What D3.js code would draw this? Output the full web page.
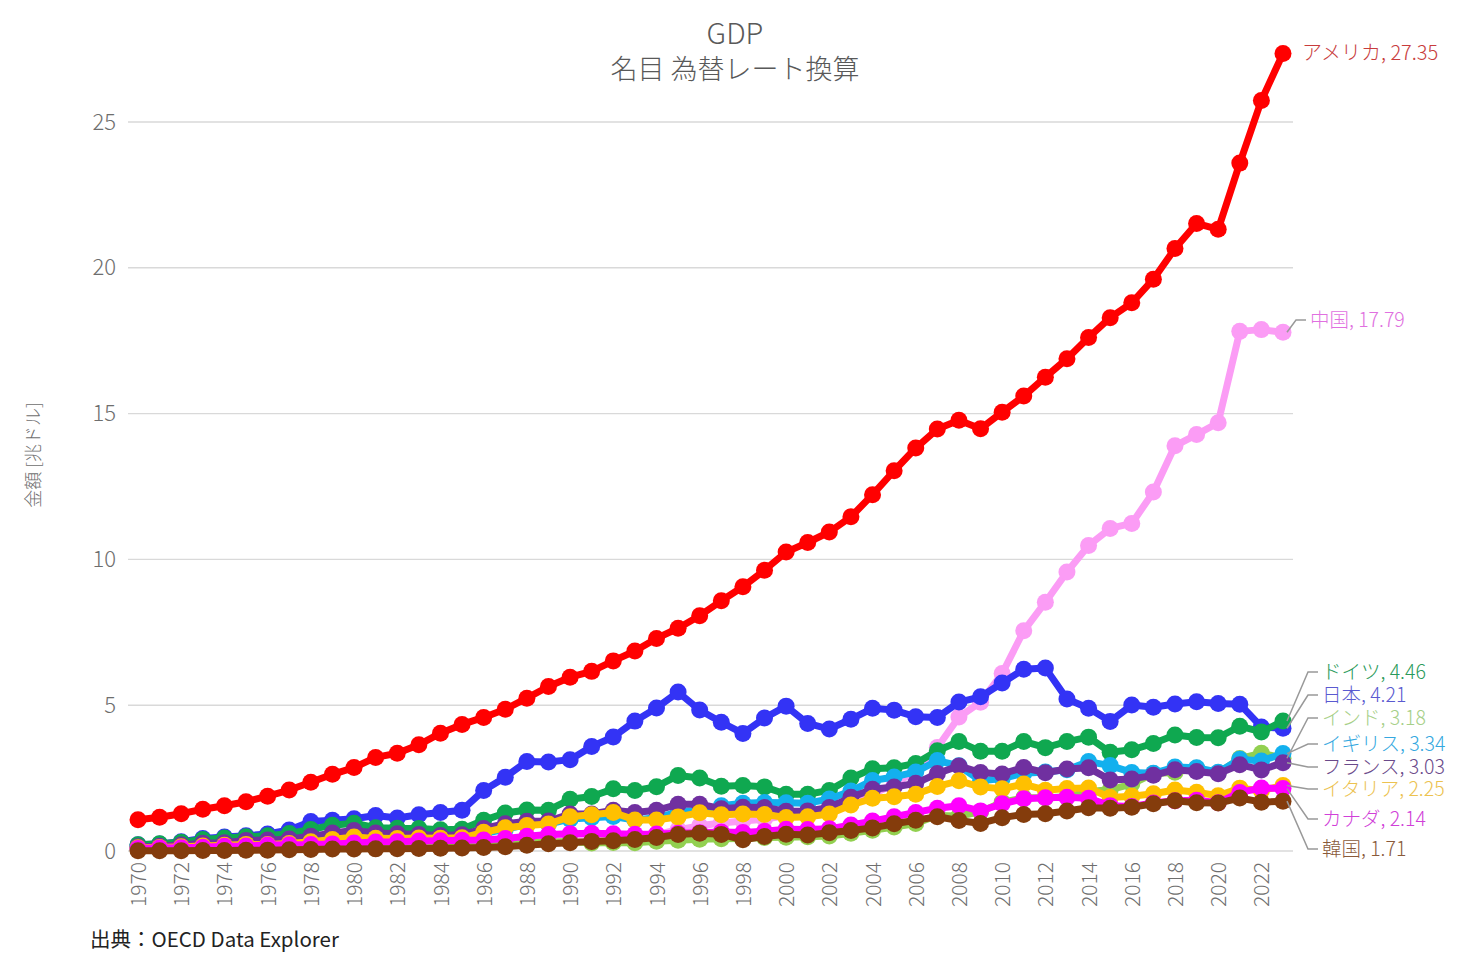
<!DOCTYPE html>
<html><head><meta charset="utf-8">
<script src="https://cdn.jsdelivr.net/npm/d3@7"></script>
<style>
body{margin:0;background:#fff;}
text{font-family:"Noto Sans CJK JP","Noto Sans",sans-serif;}
</style></head>
<body><svg id="c" width="1471" height="961"></svg>
<script>
const years = d3.range(1970, 2024);
const seriesNames = ["アメリカ","中国","日本","ドイツ","インド","イギリス","フランス","イタリア","カナダ","韓国"];
const seriesColors = ["#ff0000","#fb9cf5","#3333f5","#0fa850","#92d050","#13b0ee","#7030a0","#ffc000","#ff00ff","#843c0c"];
const labelColors = ["#c83c3c","#e070e0","#5a5ad0","#2a9a5a","#a6cf88","#35a8e0","#6a4a8a","#ecc250","#d040d8","#8a5a3a"];
const usa = [1.07,1.16,1.28,1.43,1.55,1.69,1.88,2.09,2.36,2.63,2.86,3.21,3.35,3.64,4.04,4.34,4.58,4.86,5.24,5.64,5.96,6.16,6.52,6.86,7.29,7.64,8.07,8.58,9.06,9.63,10.25,10.58,10.94,11.46,12.22,13.04,13.82,14.47,14.77,14.48,15.05,15.6,16.25,16.88,17.61,18.29,18.8,19.61,20.66,21.52,21.32,23.59,25.74,27.35];
const china = [0.093,0.099,0.113,0.138,0.144,0.163,0.154,0.175,0.149,0.178,0.191,0.196,0.205,0.23,0.26,0.309,0.301,0.273,0.313,0.348,0.361,0.383,0.427,0.445,0.564,0.734,0.863,0.962,1.029,1.094,1.211,1.339,1.471,1.66,1.955,2.286,2.752,3.55,4.594,5.102,6.087,7.552,8.532,9.57,10.475,11.062,11.233,12.31,13.895,14.28,14.688,17.82,17.88,17.79];
const japan = [0.212,0.24,0.318,0.432,0.479,0.521,0.586,0.721,1.014,1.055,1.105,1.218,1.134,1.244,1.318,1.399,2.078,2.532,3.072,3.054,3.133,3.584,3.909,4.454,4.907,5.449,4.833,4.415,4.032,4.562,4.968,4.374,4.183,4.52,4.893,4.831,4.601,4.579,5.106,5.289,5.759,6.233,6.272,5.212,4.897,4.445,5.004,4.931,5.041,5.118,5.055,5.034,4.256,4.21];
const germany = [0.216,0.249,0.3,0.398,0.446,0.489,0.52,0.601,0.74,0.882,0.95,0.8,0.777,0.771,0.725,0.745,1.052,1.303,1.405,1.398,1.772,1.868,2.131,2.071,2.206,2.592,2.504,2.219,2.243,2.199,1.948,1.945,2.078,2.505,2.82,2.858,3.002,3.44,3.752,3.418,3.418,3.758,3.545,3.753,3.905,3.384,3.469,3.69,3.977,3.889,3.887,4.279,4.082,4.46];
const india = [0.063,0.067,0.071,0.085,0.099,0.098,0.103,0.122,0.137,0.153,0.186,0.196,0.204,0.222,0.215,0.237,0.253,0.284,0.3,0.301,0.327,0.275,0.293,0.284,0.333,0.367,0.4,0.423,0.429,0.467,0.468,0.485,0.515,0.608,0.709,0.82,0.94,1.217,1.199,1.342,1.676,1.823,1.828,1.857,2.039,2.104,2.295,2.651,2.703,2.836,2.675,3.168,3.354,3.18];
const uk = [0.131,0.148,0.17,0.193,0.206,0.242,0.232,0.263,0.336,0.438,0.564,0.54,0.515,0.489,0.461,0.489,0.601,0.745,0.91,0.926,1.093,1.142,1.18,1.061,1.14,1.335,1.408,1.553,1.637,1.665,1.658,1.641,1.785,2.055,2.42,2.539,2.713,3.1,2.923,2.411,2.486,2.664,2.707,2.786,3.065,2.928,2.694,2.666,2.878,2.857,2.704,3.143,3.09,3.34];
const france = [0.149,0.166,0.203,0.265,0.282,0.362,0.373,0.411,0.506,0.614,0.701,0.618,0.588,0.562,0.533,0.556,0.771,0.934,1.019,1.025,1.269,1.269,1.401,1.323,1.394,1.601,1.605,1.452,1.503,1.492,1.362,1.376,1.494,1.84,2.116,2.197,2.32,2.657,2.918,2.69,2.643,2.863,2.683,2.811,2.852,2.439,2.472,2.595,2.79,2.729,2.647,2.959,2.78,3.03];
const italy = [0.113,0.124,0.145,0.175,0.2,0.227,0.226,0.258,0.316,0.394,0.477,0.433,0.431,0.444,0.439,0.451,0.64,0.798,0.877,0.927,1.178,1.245,1.32,1.067,1.066,1.17,1.312,1.242,1.27,1.253,1.147,1.172,1.271,1.577,1.807,1.858,1.949,2.214,2.408,2.199,2.136,2.294,2.087,2.141,2.162,1.836,1.877,1.962,2.092,2.012,1.897,2.156,2.067,2.25];
const canada = [0.088,0.099,0.113,0.131,0.16,0.173,0.207,0.212,0.219,0.244,0.274,0.307,0.314,0.341,0.355,0.365,0.377,0.431,0.507,0.566,0.594,0.61,0.592,0.578,0.579,0.605,0.63,0.654,0.634,0.678,0.744,0.738,0.76,0.895,1.026,1.173,1.319,1.468,1.553,1.376,1.617,1.793,1.828,1.847,1.806,1.556,1.528,1.65,1.725,1.744,1.655,2.008,2.162,2.14];
const korea = [0.009,0.01,0.011,0.014,0.02,0.022,0.03,0.039,0.053,0.067,0.065,0.073,0.079,0.088,0.098,0.102,0.117,0.147,0.199,0.246,0.283,0.33,0.355,0.392,0.463,0.566,0.61,0.57,0.383,0.498,0.576,0.547,0.627,0.702,0.793,0.934,1.053,1.172,1.047,0.944,1.144,1.253,1.278,1.37,1.484,1.466,1.5,1.623,1.725,1.651,1.644,1.818,1.674,1.71];
const yTicks = [0,5,10,15,20,25];
const xTickYears = d3.range(1970, 2024, 2);
const titleText = "GDP";
const subtitleText = "名目 為替レート換算";
const yAxisTitle = "金額 [兆ドル]";
const sourceText = "出典：OECD Data Explorer";

const allValues = [usa,china,japan,germany,india,uk,france,italy,canada,korea];
// label layout (pixel rows for the stacked end labels)
const labelRows = [null, 320, 695, 672, 718, 744, 767, 789, 819, 849];

const svg = d3.select("#c");
const x = d3.scalePoint().domain(years).range([138, 1283]);
const y = d3.scaleLinear().domain([0, 25]).range([851, 122]);

// gridlines
svg.append("g").selectAll("line").data(yTicks).join("line")
  .attr("x1", 128).attr("x2", 1293)
  .attr("y1", d => y(d)).attr("y2", d => y(d))
  .attr("stroke", "#d9d9d9").attr("stroke-width", 1.4);

// y axis
const yAxis = d3.axisLeft(y).tickValues(yTicks).tickSize(0).tickPadding(0);
const gy = svg.append("g").attr("transform", "translate(116,0)").call(yAxis);
gy.select(".domain").remove();
gy.selectAll("text").attr("font-size", 22).attr("fill", "#6e6e6e").attr("font-weight", 300)
  .attr("font-family", "'Noto Sans CJK JP', sans-serif");

// x axis
const xAxis = d3.axisBottom(x).tickValues(xTickYears).tickSize(0).tickPadding(0);
const gx = svg.append("g").attr("transform", "translate(0,860)").call(xAxis);
gx.select(".domain").remove();
gx.selectAll("text")
  .attr("font-size", 21).attr("fill", "#6e6e6e").attr("font-weight", 300)
  .attr("font-family", "'Noto Sans CJK JP', sans-serif")
  .attr("text-anchor", "end").attr("dy", "0.36em")
  .attr("transform", "rotate(-90)").attr("x", -2).attr("y", 0);

// series
const line = d3.line().x((d, i) => x(years[i])).y(d => y(d));
allValues.forEach((vals, si) => {
  const g = svg.append("g");
  g.append("path").datum(vals).attr("d", line)
    .attr("fill", "none").attr("stroke", seriesColors[si]).attr("stroke-width", 7)
    .attr("stroke-linejoin", "round");
  g.selectAll("circle").data(vals).join("circle")
    .attr("cx", (d, i) => x(years[i])).attr("cy", d => y(d)).attr("r", 8.5)
    .attr("fill", seriesColors[si]);
});

// end labels
allValues.forEach((vals, si) => {
  const last = vals[vals.length - 1];
  const px = x(years[years.length - 1]), py = y(last);
  const txt = seriesNames[si] + ", " + d3.format(".2f")(last);
  if (labelRows[si] === null) {
    svg.append("text").attr("x", px + 19).attr("y", py).attr("dy", "0.35em")
      .attr("font-size", 20).attr("font-weight", 300).attr("fill", labelColors[si]).text(txt);
    return;
  }
  const ly = labelRows[si];
  const lx = si === 1 ? 1310 : 1322;
  svg.append("polyline")
    .attr("points", `${px + 4},${py} ${lx - 14},${ly} ${lx - 4},${ly}`)
    .attr("fill", "none").attr("stroke", "#999").attr("stroke-width", 1.5);
  svg.append("text").attr("x", lx).attr("y", ly).attr("dy", "0.35em")
    .attr("font-size", 19.5).attr("font-weight", 300).attr("fill", labelColors[si]).text(txt);
});

// titles
svg.append("text").attr("x", 735).attr("y", 34).attr("dy", "0.35em").attr("text-anchor", "middle")
  .attr("font-size", 29).attr("font-weight", 300).attr("fill", "#595959").text(titleText);
svg.append("text").attr("x", 735).attr("y", 70).attr("dy", "0.35em").attr("text-anchor", "middle")
  .attr("font-size", 27).attr("font-weight", 300).attr("fill", "#595959").text(subtitleText);
svg.append("text").attr("transform", "translate(34,455) rotate(-90)").attr("dy", "0.35em")
  .attr("text-anchor", "middle").attr("font-size", 18).attr("font-weight", 300).attr("fill", "#6e6e6e").text(yAxisTitle);
svg.append("text").attr("x", 90).attr("y", 940).attr("dy", "0.35em")
  .attr("font-size", 20.5).attr("fill", "#222").text(sourceText);
</script></body></html>
